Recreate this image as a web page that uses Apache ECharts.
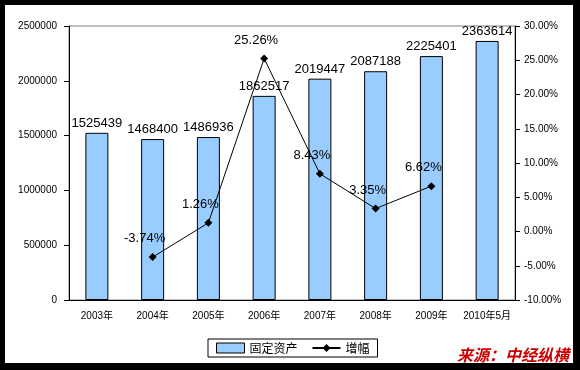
<!DOCTYPE html>
<html><head><meta charset="utf-8">
<script src="https://cdn.jsdelivr.net/npm/echarts@6/dist/echarts.min.js"></script>
<style>html,body{margin:0;padding:0;background:#000}#c{width:580px;height:370px}</style>
</head><body><div id="c"></div>
<script>
const categories = ['2003年','2004年','2005年','2006年','2007年','2008年','2009年','2010年5月'];
const fixedAssets = [1525439,1468400,1486936,1862517,2019447,2087188,2225401,2363614];
const growth = [null,-3.74,1.26,25.26,8.43,3.35,6.62,null];
const seriesNames = ['固定资产','增幅'];
const sourceText = '来源：中经纵横';

const chart = echarts.init(document.getElementById('c'));
const font = 'Arial, "Liberation Sans", "Noto Sans CJK SC", sans-serif';
chart.setOption({
  backgroundColor:'#000',
  animation:false,
  graphic:[
    {type:'rect', z:-10, shape:{x:5,y:5,width:568,height:358}, style:{fill:'#fff'}},
    {type:'text', z:10, left:457, top:347, style:{text:sourceText, fill:'#cc0000', font:'italic bold 16px "Noto Sans CJK SC"', shadowColor:'rgba(0,0,0,0.45)', shadowBlur:2, shadowOffsetX:1, shadowOffsetY:1}}
  ],
  grid:{left:69, right:65, top:26, bottom:70, show:true, borderColor:'#808080', borderWidth:1, backgroundColor:'#fff'},
  legend:{
    left:208, top:339, itemGap:14, padding:[3,8,3,8],
    borderColor:'#000', borderWidth:1, backgroundColor:'#fff',
    itemWidth:28, itemHeight:10,
    textStyle:{fontSize:12, color:'#000', fontFamily:'"Noto Sans CJK SC", sans-serif'},
    data:[
      {name:seriesNames[0], icon:'rect', itemStyle:{color:'#99ccff', borderColor:'#000', borderWidth:1}},
      {name:seriesNames[1]}
    ]
  },
  xAxis:{
    type:'category', data:categories,
    axisLine:{lineStyle:{color:'#000', width:1}},
    axisTick:{inside:true, length:5, interval:0, lineStyle:{color:'#000'}},
    axisLabel:{fontSize:10, color:'#000', margin:11, interval:0, fontFamily:font}
  },
  yAxis:[
    {type:'value', min:0, max:2500000, interval:500000, position:'left',
     axisLine:{show:true, lineStyle:{color:'#000'}},
     axisTick:{show:true, length:5, lineStyle:{color:'#000'}},
     axisLabel:{fontSize:10, color:'#000', margin:12, fontFamily:font, formatter:v=>String(v)},
     splitLine:{show:false}},
    {type:'value', min:-10, max:30, interval:5, position:'right',
     axisLine:{show:true, lineStyle:{color:'#000'}},
     axisTick:{show:true, length:5, lineStyle:{color:'#000'}},
     axisLabel:{fontSize:10, color:'#000', margin:9, fontFamily:font, formatter:v=>v.toFixed(2)+'%'},
     splitLine:{show:false}}
  ],
  series:[
    {name:seriesNames[0], type:'bar', data:fixedAssets, barWidth:23,
     itemStyle:{color:'#99ccff', borderColor:'#000', borderWidth:1},
     label:{show:true, position:'top', distance:3, fontSize:13, color:'#000', fontFamily:font}},
    {name:seriesNames[1], type:'line', yAxisIndex:1, data:growth, connectNulls:false,
     symbol:'diamond', symbolSize:8, showAllSymbol:true,
     lineStyle:{color:'#000', width:1}, itemStyle:{color:'#000'},
     label:{show:true, position:'top', distance:8, offset:[-8,0], fontSize:13, color:'#000', fontFamily:font, formatter:p=>p.value.toFixed(2)+'%'}}
  ]
});
</script></body></html>
